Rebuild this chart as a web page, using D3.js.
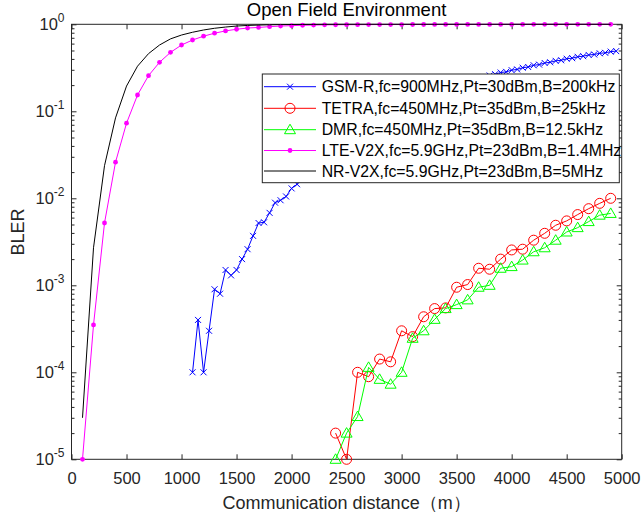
<!DOCTYPE html>
<html><head><meta charset="utf-8">
<script src="https://cdn.jsdelivr.net/npm/d3@7"></script>
<style>body{margin:0;background:#fff}svg{display:block}</style>
</head><body>
<script>
// ---- data ----
const seriesNames = [
  "GSM-R,fc=900MHz,Pt=30dBm,B=200kHz",
  "TETRA,fc=450MHz,Pt=35dBm,B=25kHz",
  "DMR,fc=450MHz,Pt=35dBm,B=12.5kHz",
  "LTE-V2X,fc=5.9GHz,Pt=23dBm,B=1.4MHz",
  "NR-V2X,fc=5.9GHz,Pt=23dBm,B=5MHz"
];
const xTicks = [0,500,1000,1500,2000,2500,3000,3500,4000,4500,5000];
const yTickExps = [0,-1,-2,-3,-4,-5];

const gsmDist = d3.range(1100, 5000, 50);
const gsmBler = [
 1.0e-4,4.0e-4,1.0e-4,3.0e-4,9.0e-4,8.0e-4,1.5e-3,1.3e-3,1.5e-3,2.0e-3,
 2.6e-3,3.7e-3,5.2e-3,5.3e-3,6.8e-3,8.9e-3,9.5e-3,1.05e-2,1.3e-2,1.45e-2,
 0.0166,0.019,0.0219,0.0251,0.0282,0.0316,0.0355,0.0398,0.0447,0.049,
 0.0537,0.0589,0.0646,0.0708,0.0776,0.0841,0.0912,0.0989,0.107,0.115,
 0.123,0.132,0.141,0.150,0.158,0.168,0.178,0.187,0.197,0.207,
 0.218,0.228,0.238,0.248,0.258,0.267,0.279,0.284,0.297,0.303,
 0.317,0.323,0.338,0.344,0.359,0.366,0.380,0.386,0.402,0.408,
 0.423,0.430,0.444,0.450,0.464,0.470,0.485,0.492
];

const tetraDist = d3.range(2400, 5000, 100);
const tetraBler = [
 2.0e-5,1.0e-5,1.0e-4,8.9e-5,1.42e-4,1.32e-4,3.0e-4,2.57e-4,4.35e-4,5.4e-4,
 5.5e-4,9.5e-4,1.02e-3,1.57e-3,1.53e-3,2.0e-3,2.55e-3,2.6e-3,3.3e-3,3.96e-3,
 4.9e-3,5.5e-3,6.5e-3,7.6e-3,8.75e-3,1.0e-2
];

const dmrDist = d3.range(2400, 5000, 100);
const dmrBler = [
 1.0e-5,2.0e-5,3.1e-5,1.14e-4,8.3e-5,7.3e-5,1.0e-4,2.46e-4,3.0e-4,4.06e-4,
 5.4e-4,6.0e-4,6.8e-4,9.5e-4,1.0e-3,1.57e-3,1.64e-3,1.95e-3,2.43e-3,2.7e-3,
 3.3e-3,4.1e-3,4.6e-3,5.4e-3,6.4e-3,6.7e-3
];

const lteDist = d3.range(100, 5000, 100);
const lteBler = [
 1.0e-5,3.5e-4,5.2e-3,0.026,0.073,0.154,0.257,0.366,0.476,0.578,
 0.66,0.73,0.79,0.84,0.877,0.906,0.92,0.94,0.955,0.965,
 0.975,0.98,0.985,0.988,0.99,0.991,0.992,0.993,0.994,0.994,
 0.995,0.995,0.996,0.996,0.997,0.997,0.997,0.998,0.998,0.998,
 0.998,0.999,0.999,0.999,0.999,0.999,0.999,0.999,0.999
];

const nrDist = d3.range(100, 5000, 100);
const nrBler = [
 3.0e-5,2.7e-3,0.0237,0.084,0.195,0.33,0.46,0.578,0.68,0.753,
 0.81,0.86,0.90,0.93,0.955,0.97,0.98,0.987,0.992,0.995,
 0.997,0.998,0.999,0.999,1,1,1,1,1,1,
 1,1,1,1,1,1,1,1,1,1,
 1,1,1,1,1,1,1,1,1
];

// ---- layout ----
const W = 641, H = 517;
const L = 71.5, R = 621.7, T = 24.3, B = 459.3;
const axisColor = "#262626";
const font = "'Liberation Sans', Arial, Helvetica, sans-serif";

const svg = d3.select("body").append("svg").attr("width", W).attr("height", H)
  .style("font-family", font);

const x = d3.scaleLinear().domain([0, 5000]).range([L, R]);
const y = d3.scaleLog().domain([1e-5, 1]).range([B, T]);

const g = svg.append("g");

// x ticks (bottom and top, inward)
const xAxisB = d3.axisBottom(x).tickValues(xTicks).tickSizeInner(-5).tickSizeOuter(0).tickPadding(13).tickFormat(d3.format("d"));
const gxB = g.append("g").attr("transform", `translate(0,${B})`).call(xAxisB);
const xAxisT = d3.axisTop(x).tickValues(xTicks).tickSizeInner(-5).tickSizeOuter(0).tickFormat("");
const gxT = g.append("g").attr("transform", `translate(0,${T})`).call(xAxisT);

// y ticks (left and right), major + minor
const majorY = yTickExps.map(e => Math.pow(10, e));
const minorY = [];
for (let e = -5; e < 0; e++) for (let k = 2; k <= 9; k++) minorY.push(k * Math.pow(10, e));

const yAxisL = d3.axisLeft(y).tickValues(majorY).tickSizeInner(-5).tickSizeOuter(0).tickFormat("");
const gyL = g.append("g").attr("transform", `translate(${L},0)`).call(yAxisL);
const yAxisLm = d3.axisLeft(y).tickValues(minorY).tickSizeInner(-3).tickSizeOuter(0).tickFormat("");
const gyLm = g.append("g").attr("transform", `translate(${L},0)`).call(yAxisLm);
const yAxisR = d3.axisRight(y).tickValues(majorY).tickSizeInner(-5).tickSizeOuter(0).tickFormat("");
const gyR = g.append("g").attr("transform", `translate(${R},0)`).call(yAxisR);
const yAxisRm = d3.axisRight(y).tickValues(minorY).tickSizeInner(-3).tickSizeOuter(0).tickFormat("");
const gyRm = g.append("g").attr("transform", `translate(${R},0)`).call(yAxisRm);

[gxB, gxT, gyL, gyLm, gyR, gyRm].forEach(a => {
  a.select(".domain").remove();
  a.selectAll("line").attr("stroke", axisColor).attr("stroke-width", 1);
});
gxB.selectAll("text").attr("fill", axisColor).style("font-size", "16.5px").style("font-family", font);

// y tick labels with superscripts
const yLab = g.append("g");
majorY.forEach((v, i) => {
  const t = yLab.append("text").attr("x", L - 7).attr("y", y(v) + 6)
    .attr("text-anchor", "end").attr("fill", axisColor).style("font-size", "16.5px");
  t.append("tspan").text("10");
  t.append("tspan").attr("dy", -8).style("font-size", "12px").text(String(yTickExps[i]));
});

// box
g.append("rect").attr("x", L).attr("y", T).attr("width", R - L).attr("height", B - T)
  .attr("fill", "none").attr("stroke", axisColor).attr("stroke-width", 1);

// title and labels
svg.append("text").attr("x", (L + R) / 2).attr("y", 16).attr("text-anchor", "middle")
  .attr("fill", "#000").style("font-size", "18.5px").text("Open Field Environment");
svg.append("text").attr("x", (L + R) / 2).attr("y", 508.5).attr("text-anchor", "middle")
  .attr("fill", axisColor).style("font-size", "18px").text("Communication distance（m）");
svg.append("text").attr("transform", `translate(24,232) rotate(-90)`).attr("text-anchor", "middle")
  .attr("fill", axisColor).style("font-size", "18px").text("BLER");

// ---- series ----
const line = d3.line().x(d => x(d[0])).y(d => y(d[1]));
const zip = (a, b) => a.map((v, i) => [v, b[i]]);

const series = [
  { name: seriesNames[0], data: zip(gsmDist, gsmBler), color: "#0000ff", marker: "x" },
  { name: seriesNames[1], data: zip(tetraDist, tetraBler), color: "#ff0000", marker: "o" },
  { name: seriesNames[2], data: zip(dmrDist, dmrBler), color: "#00ff00", marker: "^" },
  { name: seriesNames[3], data: zip(lteDist, lteBler), color: "#ff00ff", marker: "." },
  { name: seriesNames[4], data: zip(nrDist, nrBler), color: "#000000", marker: null }
];

function drawMarker(sel, type, color, cx, cy) {
  if (type === "x") {
    const s = 3;
    sel.append("path").attr("d", `M${cx - s},${cy - s}L${cx + s},${cy + s}M${cx - s},${cy + s}L${cx + s},${cy - s}`)
      .attr("stroke", color).attr("stroke-width", 1).attr("fill", "none");
  } else if (type === "o") {
    sel.append("circle").attr("cx", cx).attr("cy", cy).attr("r", 5)
      .attr("stroke", color).attr("stroke-width", 1).attr("fill", "none");
  } else if (type === "^") {
    sel.append("path").attr("d", `M${cx},${cy - 5.5}L${cx + 5.5},${cy + 4}L${cx - 5.5},${cy + 4}Z`)
      .attr("stroke", color).attr("stroke-width", 1).attr("fill", "none");
  } else if (type === ".") {
    sel.append("circle").attr("cx", cx).attr("cy", cy).attr("r", 2.4).attr("fill", color);
  }
}

const gs = svg.append("g");
series.forEach(s => {
  const sg = gs.append("g");
  sg.append("path").datum(s.data).attr("d", line).attr("fill", "none")
    .attr("stroke", s.color).attr("stroke-width", 1);
  if (s.marker) s.data.forEach(d => drawMarker(sg, s.marker, s.color, x(d[0]), y(d[1])));
});

// ---- legend ----
const lg = svg.append("g");
const lx = 262.3, ly = 74, lw = 357, lh = 108.7;
lg.append("rect").attr("x", lx).attr("y", ly).attr("width", lw).attr("height", lh)
  .attr("fill", "#fff").attr("stroke", axisColor).attr("stroke-width", 1);
const rowY = [86.7, 108.3, 129.7, 150.5, 171];
series.forEach((s, i) => {
  const yy = rowY[i];
  lg.append("line").attr("x1", 264).attr("x2", 316).attr("y1", yy).attr("y2", yy)
    .attr("stroke", s.color).attr("stroke-width", 1);
  if (s.marker) drawMarker(lg, s.marker, s.color, 290, yy);
  lg.append("text").attr("x", 321.7).attr("y", yy + 5.5).attr("fill", "#000")
    .style("font-size", "15.8px").text(s.name);
});
</script>
</body></html>
